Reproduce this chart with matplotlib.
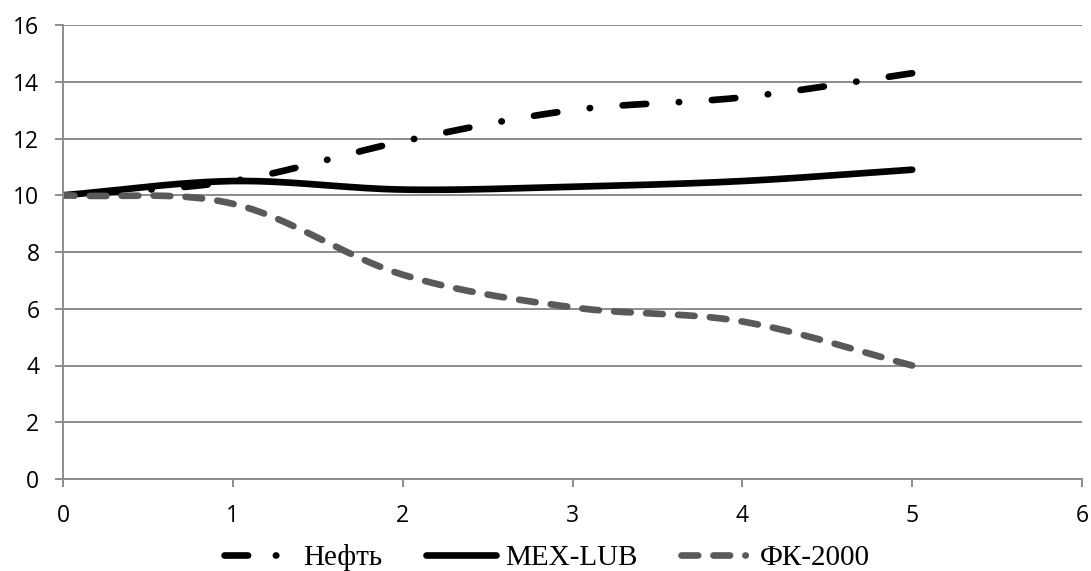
import numpy as np
import matplotlib
matplotlib.use("Agg")
import matplotlib.pyplot as plt
from matplotlib.lines import Line2D

x_vals = [0, 1, 2, 3, 4, 5]
neft = [10.0, 10.5, 11.9, 13.0, 13.45, 14.3]
mex_lub = [10.0, 10.5, 10.2, 10.3, 10.5, 10.9]
fk2000 = [10.0, 9.7, 7.2, 6.05, 5.55, 4.0]
series_names = ["Нефть", "MEX-LUB", "ФК-2000"]
x_ticks = [0, 1, 2, 3, 4, 5, 6]
y_ticks = [0, 2, 4, 6, 8, 10, 12, 14, 16]


def smooth(xs, ys, n=40):
    # Catmull-Rom style Bezier spline like Excel smoothed lines
    xs = np.asarray(xs, float)
    ys = np.asarray(ys, float)
    P = np.column_stack([xs, ys])
    P = np.vstack([2 * P[0] - P[1], P, 2 * P[-1] - P[-2]])
    out = []
    for i in range(1, len(P) - 2):
        p0, p1, p2, p3 = P[i - 1], P[i], P[i + 1], P[i + 2]
        t = np.linspace(0, 1, n, endpoint=(i == len(P) - 3))[:, None]
        c1 = p1 + (p2 - p0) / 6
        c2 = p2 - (p3 - p1) / 6
        pts = ((1 - t) ** 3) * p1 + 3 * ((1 - t) ** 2) * t * c1 + 3 * (1 - t) * t ** 2 * c2 + t ** 3 * p2
        out.append(pts)
    out = np.vstack(out)
    return out[:, 0], out[:, 1]


plt.rcParams['lines.scale_dashes'] = False
fig = plt.figure(figsize=(10.91, 5.71), dpi=100)
ax = fig.add_axes([63 / 1091, 92 / 571, 1019 / 1091, 454 / 571])
ax.set_xlim(0, 6)
ax.set_ylim(0, 16)

lw = 4.8
dash_patterns = [(17, 23.5, 0.3, 23.5), None, (12, 11)]
legend_styles = [(0, (17, 20, 0.3, 20)), "-", (0, (12, 11, 12, 11, 0.3, 11))]
colors = ["black", "black", "#595959"]
handles = []
for ys, name, pat, col, lst in zip([neft, mex_lub, fk2000], series_names, dash_patterns,
                                   colors, legend_styles):
    sx, sy = smooth(x_vals, ys)
    if pat is None:
        ls = "-"
    else:
        # phase the pattern so the line ends with a full dash, as in the reference
        pix = ax.transData.transform(np.column_stack([sx, sy]))
        length_pt = np.sum(np.hypot(*np.diff(pix, axis=0).T)) * 72 / fig.dpi
        period = sum(pat)
        offset = (pat[0] - length_pt) % period
        ls = (offset, pat)
    ax.plot(sx, sy, lw=lw, color=col, linestyle=ls, dash_capstyle="round",
            solid_capstyle="round")
    handles.append(Line2D([], [], lw=lw, color=col, linestyle=lst, dash_capstyle="round",
                          solid_capstyle="round", label=name))

ax.set_xticks(x_ticks)
ax.set_yticks(y_ticks)
ax.yaxis.grid(True, color="#8c8c8c", lw=1.4)
ax.set_axisbelow(True)
for s in ["top", "right"]:
    ax.spines[s].set_visible(False)
for s in ["left", "bottom"]:
    ax.spines[s].set_color("#8c8c8c")
    ax.spines[s].set_linewidth(1.4)
ax.tick_params(axis="both", direction="out", length=6, width=1.4, color="#8c8c8c",
               labelsize=16.5)
ax.tick_params(axis="x", pad=12)
ax.tick_params(axis="y", pad=11)
for lab in ax.get_xticklabels() + ax.get_yticklabels():
    lab.set_fontfamily("Open Sans")

leg = ax.legend(handles=handles, loc="lower center", bbox_to_anchor=(0.475, -92 / 454), ncol=3,
                frameon=False, prop={"family": "Liberation Serif", "size": 21},
                handlelength=2.4, handletextpad=0.3, columnspacing=1.5,
                borderpad=0.0, borderaxespad=0.0)
fig.savefig("out.png", dpi=100)
